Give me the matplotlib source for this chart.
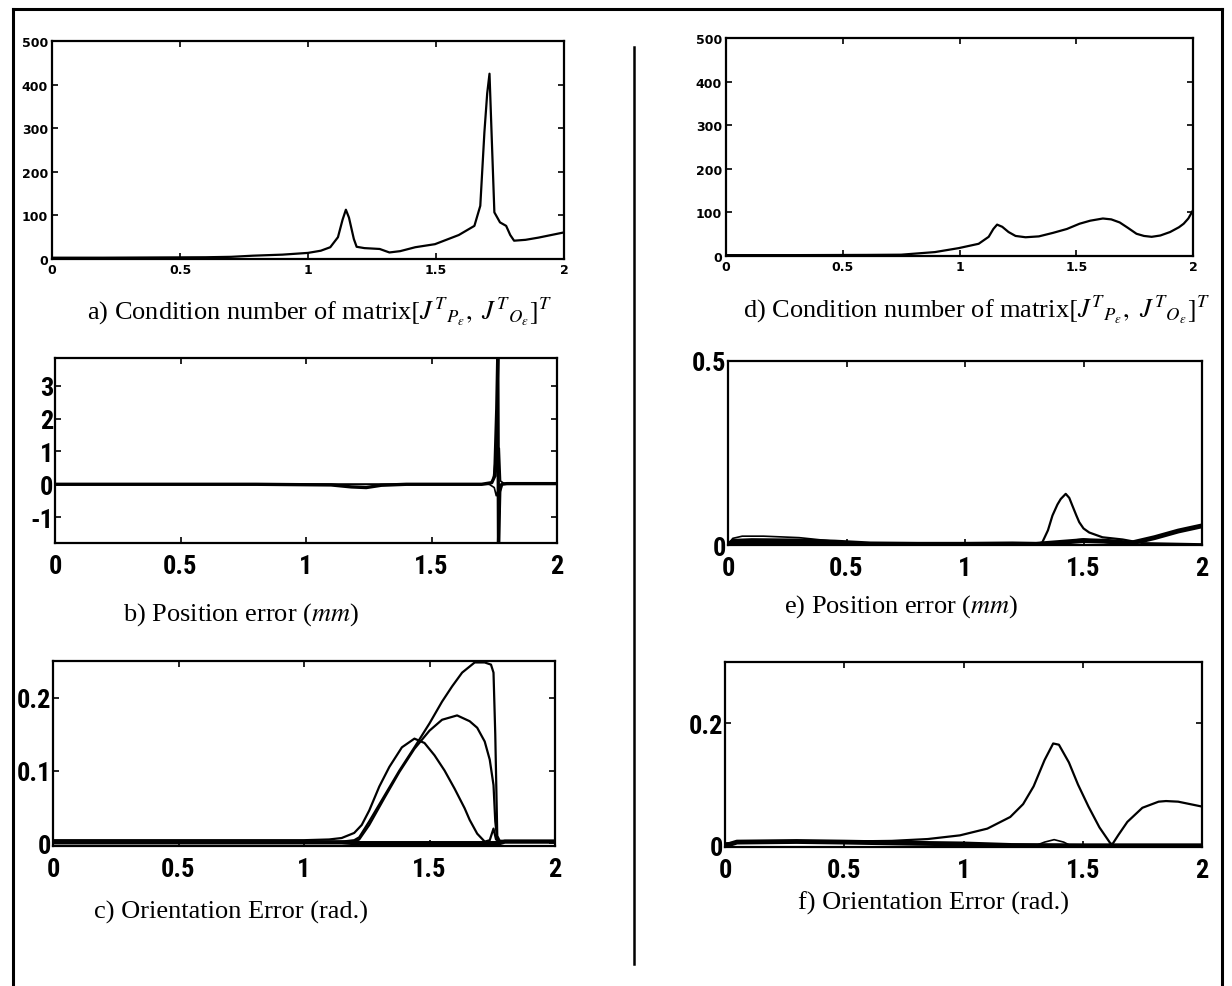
import matplotlib
matplotlib.use('Agg')
import matplotlib.pyplot as plt
from matplotlib.lines import Line2D

plt.rcParams['mathtext.fontset'] = 'stix'

# ---- data ----
# a) condition number, first configuration
a_x = [0, 0.2, 0.4, 0.6, 0.7, 0.785, 0.9, 1.0, 1.05, 1.087, 1.117, 1.135, 1.148, 1.16, 1.179,
       1.19, 1.22, 1.28, 1.318, 1.36, 1.419, 1.496, 1.589, 1.65, 1.673, 1.689, 1.70, 1.709,
       1.717, 1.728, 1.75, 1.774, 1.79, 1.805, 1.85, 1.9, 1.95, 2.0]
a_y = [3, 3, 3.5, 4, 5, 7.6, 10, 14, 19, 27, 50, 90, 113, 95, 46,
       28, 25, 23, 15, 18, 27, 34, 55, 76, 122, 290, 380, 425,
       290, 107, 84, 76, 55, 42, 44, 49, 55, 61]

# d) condition number, second configuration
d_x = [0, 0.3, 0.6, 0.75, 0.895, 0.996, 1.082, 1.125, 1.145, 1.161, 1.183, 1.21, 1.24, 1.283,
       1.34, 1.4, 1.46, 1.514, 1.56, 1.614, 1.65, 1.686, 1.72, 1.758, 1.79, 1.823, 1.86, 1.902,
       1.94, 1.96, 1.98, 2.0]
d_y = [2, 2, 2.5, 3, 9, 18, 28, 44, 62, 72, 67, 55, 46, 43,
       45, 53, 62, 74, 81, 86, 84, 77, 65, 51, 46, 44, 47, 55,
       66, 74, 86, 105]

# b) position error
b1_x = [0, 0.8, 1.1, 1.18, 1.24, 1.30, 1.4, 1.70, 1.74, 1.752, 1.760, 1.764, 1.767, 1.772, 1.78, 1.8, 2.0]
b1_y = [0, 0, -0.02, -0.08, -0.1, -0.03, 0, 0, 0.05, 0.25, 2.3, 3.9, -1.8, -0.2, 0, 0.02, 0.02]
b2_x = [0, 1.0, 1.73, 1.745, 1.755, 1.762, 1.766, 1.770, 1.78, 2.0]
b2_y = [0, 0, 0, 0.1, 0.8, 2.3, 0.0, -0.4, 0.03, 0.03]
b3_x = [0, 1.0, 1.73, 1.75, 1.758, 1.764, 1.770, 1.775, 1.79, 2.0]
b3_y = [0, 0, 0, -0.1, -0.35, -0.2, 1.1, 0.1, 0.02, 0.02]

# c) orientation error
c1_x = [0, 0.5, 1.0, 1.15, 1.2, 1.22, 1.26, 1.32, 1.38, 1.44, 1.50, 1.55, 1.59, 1.63, 1.68,
        1.72, 1.745, 1.755, 1.762, 1.77, 1.78, 1.85, 2.0]
c1_y = [0.002, 0.002, 0.002, 0.002, 0.004, 0.008, 0.03, 0.065, 0.10, 0.132, 0.165, 0.195,
        0.216, 0.235, 0.249, 0.249, 0.246, 0.235, 0.15, 0.01, 0.003, 0.003, 0.003]
c2_x = [0, 1.0, 1.2, 1.22, 1.26, 1.32, 1.38, 1.44, 1.50, 1.55, 1.61, 1.66, 1.69, 1.72, 1.74,
        1.755, 1.762, 1.77, 1.78, 2.0]
c2_y = [0.001, 0.001, 0.002, 0.005, 0.025, 0.062, 0.098, 0.13, 0.155, 0.17, 0.176, 0.168,
        0.159, 0.14, 0.115, 0.08, 0.03, 0.004, 0.002, 0.002]
c3_x = [0, 0.5, 1.0, 1.1, 1.15, 1.2, 1.23, 1.26, 1.30, 1.34, 1.39, 1.44, 1.48, 1.52, 1.56,
        1.6, 1.64, 1.66, 1.69, 1.72, 1.74, 1.755, 1.765, 1.78, 2.0]
c3_y = [0.004, 0.004, 0.004, 0.005, 0.007, 0.014, 0.025, 0.045, 0.078, 0.105, 0.132, 0.144,
        0.138, 0.121, 0.1, 0.075, 0.048, 0.032, 0.013, 0.002, 0.004, 0.02, 0.005, 0.003, 0.003]
# thick band of near-zero traces
c4_x = [0, 0.5, 1.0, 1.15, 1.2, 1.78, 1.8, 2.0]
c4_y = [0.001, 0.001, 0.001, 0.001, 0.0, 0.0, 0.002, 0.002]

# e) position error, second configuration
e1_x = [0, 0.3, 0.6, 1.0, 1.3, 1.326, 1.35, 1.369, 1.39, 1.404, 1.425, 1.44, 1.453, 1.47,
        1.482, 1.50, 1.524, 1.58, 1.665, 1.75, 2.0]
e1_y = [0.003, 0.003, 0.002, 0.002, 0.002, 0.007, 0.04, 0.08, 0.11, 0.125, 0.139, 0.128,
        0.107, 0.08, 0.062, 0.045, 0.034, 0.021, 0.015, 0.005, 0.002]
e2_x = [0, 0.02, 0.1, 0.3, 0.45, 0.6, 0.8, 1.0, 1.2, 1.3, 1.5, 1.6, 1.7, 1.8, 1.9, 2.0]
e2_y = [0.0, 0.010, 0.012, 0.011, 0.008, 0.003, 0.002, 0.002, 0.003, 0.002, 0.012, 0.01,
        0.005, 0.02, 0.038, 0.052]
e3_x = [0, 0.02, 0.06, 0.15, 0.3, 0.45, 0.6]
e3_y = [0.0, 0.018, 0.024, 0.024, 0.02, 0.01, 0.003]
e4_x = [1.4, 1.44, 1.47, 1.5, 1.55, 1.6, 1.7]
e4_y = [0.0, 0.006, 0.014, 0.016, 0.012, 0.006, 0.0]

# f) orientation error, second configuration
f1_x = [0, 0.1, 0.3, 0.5, 0.7, 0.85, 0.985, 1.1, 1.196, 1.25, 1.294, 1.34, 1.376, 1.40,
        1.442, 1.48, 1.524, 1.57, 1.614, 1.63]
f1_y = [0.004, 0.006, 0.007, 0.007, 0.008, 0.011, 0.017, 0.028, 0.047, 0.068, 0.097, 0.14,
        0.167, 0.165, 0.136, 0.10, 0.064, 0.03, 0.005, 0.0]
f2_x = [1.6, 1.625, 1.65, 1.687, 1.75, 1.818, 1.849, 1.9, 1.95, 2.0]
f2_y = [0.0, 0.003, 0.018, 0.039, 0.062, 0.072, 0.073, 0.072, 0.068, 0.064]
f3_x = [1.3, 1.34, 1.38, 1.42, 1.45]
f3_y = [0.0, 0.006, 0.01, 0.006, 0.0]
f4_x = [0, 0.05, 0.3, 0.5, 0.8, 1.0, 1.2, 1.5, 2.0]
f4_y = [0.0, 0.006, 0.007, 0.006, 0.004, 0.003, 0.0005, 0.0, 0.0]

x_ticks = [0, 0.5, 1, 1.5, 2]
x_labels = ['0', '0.5', '1', '1.5', '2']

W, H = 1232, 987
fig = plt.figure(figsize=(W / 100, H / 100), dpi=100)


def px_axes(left, top, right, bottom):
    return fig.add_axes([left / W, 1 - bottom / H, (right - left) / W, (bottom - top) / H])


def matlab_style(ax, small=False):
    for s in ax.spines.values():
        s.set_linewidth(1.6)
    ax.tick_params(direction='in', top=True, right=True, length=4, width=1.2)
    ax.set_xlim(0, 2)
    ax.set_xticks(x_ticks)
    ax.set_xticklabels(x_labels)
    if small:
        ax.tick_params(labelsize=9, pad=3)
        for lab in ax.get_xticklabels() + ax.get_yticklabels():
            lab.set_family('DejaVu Sans')
            lab.set_weight('bold')
    else:
        ax.tick_params(axis='x', labelsize=19, pad=8)
        ax.tick_params(axis='y', labelsize=19, pad=1)
        for lab in ax.get_xticklabels() + ax.get_yticklabels():
            lab.set_family('Roboto Condensed')
            lab.set_weight('bold')


lw = 1.6

# a
ax = px_axes(52, 42, 564, 260)
ax.plot(a_x, a_y, color='black', lw=lw)
ax.set_ylim(0, 500)
ax.set_yticks([0, 100, 200, 300, 400, 500])
matlab_style(ax, small=True)

# d
ax = px_axes(726, 39, 1193, 257)
ax.plot(d_x, d_y, color='black', lw=lw)
ax.set_ylim(0, 500)
ax.set_yticks([0, 100, 200, 300, 400, 500])
matlab_style(ax, small=True)

# b
ax = px_axes(55, 359, 557, 544)
ax.plot(b1_x, b1_y, color='black', lw=2.4)
ax.plot(b2_x, b2_y, color='black', lw=1.2)
ax.plot(b3_x, b3_y, color='black', lw=1.2)
ax.set_ylim(-1.79, 3.85)
ax.set_yticks([-1, 0, 1, 2, 3])
ax.set_yticklabels(['-1', '0', '1', '2', '3'])
matlab_style(ax)

# e
ax = px_axes(728, 362, 1202, 546)
ax.plot(e1_x, e1_y, color='black', lw=lw)
ax.plot(e2_x, e2_y, color='black', lw=3.5)
ax.plot(e3_x, e3_y, color='black', lw=1.2)
ax.plot(e4_x, e4_y, color='black', lw=1.2)
ax.set_ylim(0, 0.5)
ax.set_yticks([0, 0.5])
ax.set_yticklabels(['0', '0.5'])
matlab_style(ax)

# c
ax = px_axes(53, 662, 555, 847)
ax.plot(c4_x, c4_y, color='black', lw=3.0)
ax.plot(c1_x, c1_y, color='black', lw=lw)
ax.plot(c2_x, c2_y, color='black', lw=lw)
ax.plot(c3_x, c3_y, color='black', lw=lw)
ax.set_ylim(-0.004, 0.251)
ax.set_yticks([0, 0.1, 0.2])
ax.set_yticklabels(['0', '0.1', '0.2'])
matlab_style(ax)

# f
ax = px_axes(725, 663, 1202, 848)
ax.plot(f1_x, f1_y, color='black', lw=lw)
ax.plot(f2_x, f2_y, color='black', lw=lw)
ax.plot(f3_x, f3_y, color='black', lw=1.2)
ax.plot(f4_x, f4_y, color='black', lw=3.5)
ax.set_ylim(-0.002, 0.3)
ax.set_yticks([0, 0.2])
ax.set_yticklabels(['0', '0.2'])
matlab_style(ax)

# captions
cap = dict(fontsize=19, family='Liberation Serif', ha='center', va='center')
fig.text(320 / W, 1 - 312 / H,
         r'a) Condition number of matrix$[J^T{}_{P_\epsilon},\ J^T{}_{O_\epsilon}]^T$', **cap)
fig.text(976 / W, 1 - 310 / H,
         r'd) Condition number of matrix$[J^T{}_{P_\epsilon},\ J^T{}_{O_\epsilon}]^T$', **cap)
fig.text(241 / W, 1 - 615 / H, r'b) Position error ($mm$)', **cap)
fig.text(901 / W, 1 - 607 / H, r'e) Position error ($mm$)', **cap)
fig.text(231 / W, 1 - 912 / H, 'c) Orientation Error (rad.)', **cap)
fig.text(934 / W, 1 - 903 / H, 'f) Orientation Error (rad.)', **cap)

# outer frame and divider
frame = dict(color='black', lw=2.2, transform=fig.transFigure)
fig.add_artist(Line2D([13 / W, 1222 / W], [1 - 10 / H, 1 - 10 / H], **frame))
fig.add_artist(Line2D([13 / W, 13 / W], [1 - 10 / H, 0], **frame))
fig.add_artist(Line2D([1222 / W, 1222 / W], [1 - 10 / H, 0], **frame))
fig.add_artist(Line2D([634 / W, 634 / W], [1 - 48 / H, 1 - 965 / H], color='black', lw=1.8,
                      transform=fig.transFigure))

fig.savefig('out.png', dpi=100, facecolor='white')
